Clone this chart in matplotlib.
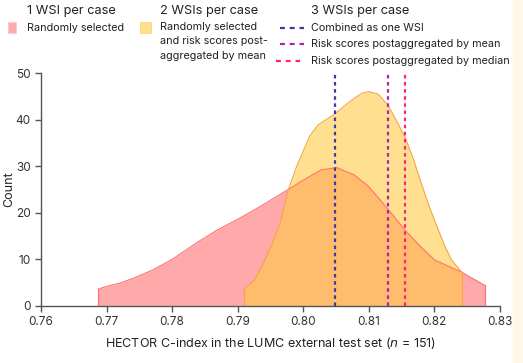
"""
HECTOR C-index distributions in the LUMC external test set.
"""

import matplotlib.pyplot as plt
from matplotlib.patches import Rectangle
from matplotlib.lines import Line2D

plt.rcParams["font.family"] = ["Inter", "DejaVu Sans"]

# 1 WSI per case, randomly selected (density)
one_x = [0.7687, 0.770, 0.772, 0.774, 0.777, 0.780, 0.782, 0.784, 0.787, 0.790,
         0.793, 0.7976, 0.800, 0.8027, 0.8051, 0.8078, 0.810, 0.8129, 0.8155,
         0.818, 0.820, 0.8241, 0.8277]
one_y = [3.6, 4.2, 4.9, 5.9, 7.7, 10.0, 11.9, 13.8, 16.4, 18.6,
         21.0, 24.9, 27.0, 29.2, 29.7, 28.1, 25.6, 20.8, 16.3,
         12.6, 9.9, 7.3, 4.4]

# 2 WSIs per case, risk scores post-aggregated by mean
two_x = [0.7909, 0.7925, 0.7937, 0.795, 0.7965, 0.7976, 0.799, 0.800, 0.801,
         0.8022, 0.8035, 0.8049, 0.8065, 0.8078, 0.809, 0.810, 0.8114, 0.8129,
         0.8142, 0.8155, 0.8168, 0.818, 0.8193, 0.8206, 0.8216, 0.8226, 0.8242]
two_y = [3.6, 5.5, 8.5, 12.5, 18.0, 24.5, 30.0, 33.3, 36.5,
         38.8, 40.0, 41.3, 43.2, 44.6, 45.7, 46.0, 45.5, 43.1,
         39.8, 36.3, 31.5, 26.3, 21.0, 16.3, 12.8, 9.9, 7.2]

# 3 WSIs per case
three_values = [0.8049, 0.8129, 0.8155]
three_labels = ["Combined as one WSI",
                "Risk scores postaggregated by mean",
                "Risk scores postaggregated by median"]
three_colors = ["#3a3aa6", "#b020a8", "#ff2080"]

W, H = 523, 363
fig = plt.figure(figsize=(W / 100, H / 100), dpi=100)

# screenshot edge band on the right
fig.add_artist(Rectangle((513 / W, 0), 10 / W, 1, transform=fig.transFigure,
                         color="#fff8e8", zorder=0))

ax = fig.add_axes([41 / W, 1 - 306 / H, 459 / W, 233 / H])

ax.fill_between(one_x, 0, one_y, color="#ff4045", alpha=0.45, lw=0)
ax.plot(one_x, one_y, color="#ff7070", lw=0.8)
ax.plot([one_x[0], one_x[0]], [0, one_y[0]], color="#ff7070", lw=0.8)
ax.plot([one_x[-1], one_x[-1]], [0, one_y[-1]], color="#ff7070", lw=0.8)

ax.fill_between(two_x, 0, two_y, color="#ffcb40", alpha=0.58, lw=0)
ax.plot(two_x, two_y, color="#f5a545", lw=0.8)
ax.plot([two_x[0], two_x[0]], [0, two_y[0]], color="#f5a545", lw=0.8)
ax.plot([two_x[-1], two_x[-1]], [0, two_y[-1]], color="#f5a545", lw=0.8)

for v, c in zip(three_values, three_colors):
    ax.vlines(v, 0, 50, colors=c, linestyles=(0, (1.6, 1.6)), lw=1.6, zorder=5)

ax.set_xlim(0.76, 0.83)
ax.set_ylim(0, 50)
ax.set_xticks([0.76, 0.77, 0.78, 0.79, 0.80, 0.81, 0.82, 0.83])
ax.set_xticklabels(["0.76", "0.77", "0.78", "0.79", "0.80", "0.81", "0.82", "0.83"])
ax.set_yticks([0, 10, 20, 30, 40, 50])
for s in ["top", "right"]:
    ax.spines[s].set_visible(False)
for s in ["left", "bottom"]:
    ax.spines[s].set_color("#555555")
    ax.spines[s].set_linewidth(1.0)
ax.tick_params(colors="#555555", labelcolor="#333333", labelsize=8.5,
               length=4, width=1.0)
ax.set_xlabel("HECTOR C-index in the LUMC external test set ($n$ = 151)",
              fontsize=9, color="#222222", labelpad=5)
ax.set_ylabel("Count", fontsize=9, color="#222222", va="center")
ax.yaxis.set_label_coords(-41 / 459 + 9 / 459, 0.5)


def fx(x):
    return x / W


def fy(y):
    return 1 - y / H


# legend titles
for x, t in [(27, "1 WSI per case"), (160, "2 WSIs per case"), (311, "3 WSIs per case")]:
    fig.text(fx(x), fy(11), t, fontsize=9.2, color="#222222", va="center")

# patch entries
fig.add_artist(Rectangle((fx(8), fy(33)), 8 / W, 11 / H, transform=fig.transFigure,
                         facecolor="#ffabab", edgecolor="#ffc8c8", lw=0.6))
fig.text(fx(27), fy(28), "Randomly selected", fontsize=7.8, color="#222222", va="center")
fig.add_artist(Rectangle((fx(140), fy(33)), 11 / W, 11 / H, transform=fig.transFigure,
                         facecolor="#ffe090", edgecolor="#ffd070", lw=0.6))
fig.text(fx(160), fy(22), "Randomly selected\nand risk scores post-\naggregated by mean",
         fontsize=7.8, color="#222222", va="top", linespacing=1.55)

# line entries
for i, (lab, c) in enumerate(zip(three_labels, three_colors)):
    y = [28, 44, 61][i]
    x0 = [280, 280, 276][i]
    fig.add_artist(Line2D([fx(x0), fx(x0 + 24)], [fy(y), fy(y)], transform=fig.transFigure,
                          color=c, lw=1.6, ls=(0, (2.2, 2.2))))
    fig.text(fx(311), fy(y), lab, fontsize=7.8, color="#222222", va="center")

fig.savefig("out.png", dpi=100)
